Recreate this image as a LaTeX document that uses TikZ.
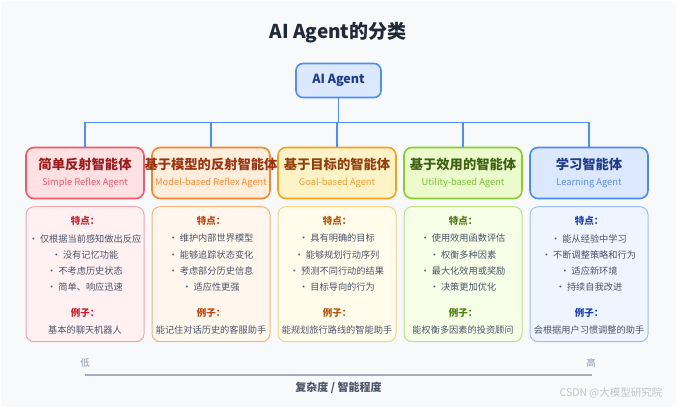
\documentclass[tikz,border=0pt]{standalone}
\usepackage{fontspec}
\setmainfont{Noto Sans CJK SC}
\definecolor{bgc}{HTML}{F8F9FB}
\definecolor{conn}{HTML}{4F8EF7}
\definecolor{rootfill}{HTML}{DBE8FE}
\definecolor{roottext}{HTML}{1E3A8A}
\definecolor{txtgray}{HTML}{4A5568}
\definecolor{axisc}{HTML}{A0AEC0}
\definecolor{titlec}{HTML}{1F2937}
\definecolor{lowhigh}{HTML}{8A9AB5}
\definecolor{wmc}{HTML}{C4C4C4}
% category 1 red
\definecolor{cf1}{HTML}{FFE1E4}\definecolor{cb1}{HTML}{EE5A68}\definecolor{ct1}{HTML}{9B1C1C}\definecolor{cs1}{HTML}{E95A6B}
\definecolor{df1}{HTML}{FFF1F2}\definecolor{db1}{HTML}{F5A3AC}\definecolor{dh1}{HTML}{C81E2E}
% category 2 orange
\definecolor{cf2}{HTML}{FFEEDB}\definecolor{cb2}{HTML}{F7842A}\definecolor{ct2}{HTML}{9A3412}\definecolor{cs2}{HTML}{F78C3A}
\definecolor{df2}{HTML}{FFF7EE}\definecolor{db2}{HTML}{F9B27A}\definecolor{dh2}{HTML}{C2410C}
% category 3 amber
\definecolor{cf3}{HTML}{FEF3C7}\definecolor{cb3}{HTML}{F5A21A}\definecolor{ct3}{HTML}{92400E}\definecolor{cs3}{HTML}{F29E2E}
\definecolor{df3}{HTML}{FFFCEC}\definecolor{db3}{HTML}{F9D283}\definecolor{dh3}{HTML}{B45309}
% category 4 lime
\definecolor{cf4}{HTML}{ECFBCC}\definecolor{cb4}{HTML}{8CCB2E}\definecolor{ct4}{HTML}{3F6212}\definecolor{cs4}{HTML}{7DBE3C}
\definecolor{df4}{HTML}{F7FEE8}\definecolor{db4}{HTML}{BCE27E}\definecolor{dh4}{HTML}{4D7C0F}
% category 5 blue
\definecolor{cf5}{HTML}{DCE8FD}\definecolor{cb5}{HTML}{4A8AF4}\definecolor{ct5}{HTML}{1E3A8A}\definecolor{cs5}{HTML}{5B8DEF}
\definecolor{df5}{HTML}{EFF5FF}\definecolor{db5}{HTML}{9CBEF8}\definecolor{dh5}{HTML}{1E40AF}
\begin{document}
\begin{tikzpicture}[x=1pt,y=-1pt,
  catbox/.style={line width=1.6pt, rounded corners=8pt, minimum width=118pt, minimum height=51pt, inner sep=0pt},
  detbox/.style={line width=1pt, rounded corners=8pt, minimum width=118pt, minimum height=135pt, inner sep=0pt},
  cattitle/.style={font=\fontsize{13.3}{15}\selectfont\bfseries, inner sep=0pt},
  catsub/.style={font=\fontsize{9.3}{11}\selectfont, inner sep=0pt},
  dethead/.style={font=\fontsize{9.5}{11}\selectfont\bfseries, inner sep=0pt},
  detline/.style={font=\fontsize{9.2}{11}\selectfont, text=txtgray, inner sep=0pt},
  connline/.style={draw=conn, line width=1.8pt}
]
\useasboundingbox (0,0) rectangle (677,408);
\fill[white] (0,0) rectangle (677,408);
\fill[bgc, rounded corners=6pt] (1,1) rectangle (676,407);

\node[font=\fontsize{19}{22}\selectfont\bfseries, text=titlec] (title) at (338,33) {AI Agent的分类};

\node[draw=conn, fill=rootfill, line width=1.6pt, rounded corners=7pt, minimum width=85pt, minimum height=34pt, text=roottext, font=\fontsize{12.5}{14}\selectfont\bfseries] (root) at (338.5,80.5) {AI Agent};

\foreach \i/\x/\t/\s/\ba/\bb/\bc/\bd/\ex in {
 1/85/简单反射智能体/Simple Reflex Agent/仅根据当前感知做出反应/没有记忆功能/不考虑历史状态/简单、响应迅速/基本的聊天机器人,
 2/211/基于模型的反射智能体/Model-based Reflex Agent/维护内部世界模型/能够追踪状态变化/考虑部分历史信息/适应性更强/能记住对话历史的客服助手,
 3/337/基于目标的智能体/Goal-based Agent/具有明确的目标/能够规划行动序列/预测不同行动的结果/目标导向的行为/能规划旅行路线的智能助手,
 4/463/基于效用的智能体/Utility-based Agent/使用效用函数评估/权衡多种因素/最大化效用或奖励/决策更加优化/能权衡多因素的投资顾问,
 5/589/学习智能体/Learning Agent/能从经验中学习/不断调整策略和行为/适应新环境/持续自我改进/会根据用户习惯调整的助手}
{
  \node[catbox, draw=cb\i, fill=cf\i] (cat\i) at (\x,173) {};
  \node[cattitle, text=ct\i] (cat\i t) at (\x,164) {\t};
  \node[catsub, text=cs\i] (cat\i s) at (\x,182.7) {\s};
  \node[detbox, draw=db\i, fill=df\i] (det\i) at (\x,274.2) {};
  \node[dethead, text=dh\i] (det\i h) at (\x,221) {特点：};
  \node[detline] (det\i a) at (\x,238.5) {· \ba};
  \node[detline] (det\i b) at (\x,254.7) {· \bb};
  \node[detline] (det\i c) at (\x,271) {· \bc};
  \node[detline] (det\i d) at (\x,287.3) {· \bd};
  \node[dethead, text=dh\i] (det\i e) at (\x,313) {例子：};
  \node[detline] (det\i x) at (\x,330) {\ex};
}

\coordinate (bus) at (338,122.5);
\draw[connline] (root.south) -- (root.south |- bus);
\draw[connline, line cap=rect] (cat1.north |- bus) -- (cat5.north |- bus);
\foreach \i in {1,...,5}{
  \draw[connline] (cat\i.north |- bus) -- (cat\i.north);
}

\coordinate (axL) at (85,375);
\coordinate (axR) at (592,375);
\draw[axisc, line width=2.4pt] (axL) -- (axR);
\node[font=\fontsize{9.5}{11}\selectfont, text=lowhigh, inner sep=0pt] (low) at (85,363) {低};
\node[font=\fontsize{9.5}{11}\selectfont, text=lowhigh, inner sep=0pt] (high) at (591,363) {高};
\node[font=\fontsize{11}{13}\selectfont\bfseries, text=txtgray, inner sep=0pt] (axlabel) at (338.5,387.5) {复杂度 / 智能程度};

\node[font=\fontsize{10.5}{12}\selectfont, text=wmc, inner sep=0pt] (wm) at (611,393) {CSDN @大模型研究院};
\end{tikzpicture}
\end{document}
